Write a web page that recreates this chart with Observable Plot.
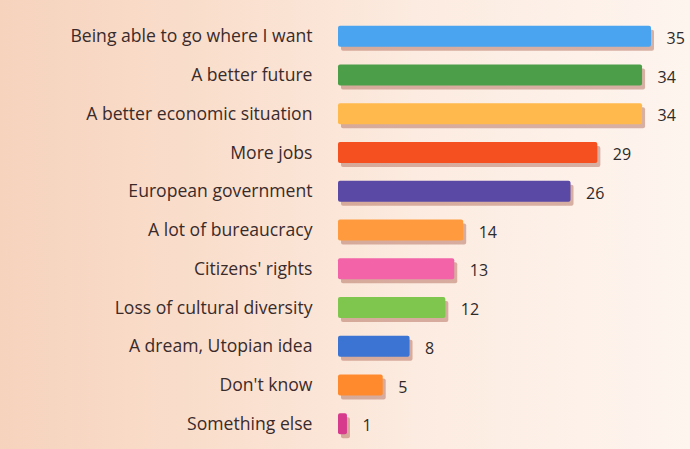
<!DOCTYPE html>
<html>
<head>
<meta charset="utf-8">
<script src="https://cdn.jsdelivr.net/npm/d3@7"></script>
<script src="https://cdn.jsdelivr.net/npm/@observablehq/plot@0.6"></script>
<style>
  html, body { margin: 0; padding: 0; }
  body {
    width: 690px; height: 449px; overflow: hidden;
    background: linear-gradient(90deg, #f6d3bd 0%, #fae0cf 35%, #fcebe0 60%, #fef5ef 100%);
  }
  #chart svg { display: block; background: transparent; }
</style>
</head>
<body>
<div id="chart"></div>
<script>
const categories = [
  "Being able to go where I want",
  "A better future",
  "A better economic situation",
  "More jobs",
  "European government",
  "A lot of bureaucracy",
  "Citizens' rights",
  "Loss of cultural diversity",
  "A dream, Utopian idea",
  "Don't know",
  "Something else"
];
const values = [35, 34, 34, 29, 26, 14, 13, 12, 8, 5, 1];
const colors = ["#4aa4f0", "#4c9e48", "#ffb94c", "#f5501f", "#5a4aa6", "#ff9b3e", "#f263a8", "#7ec64e", "#3b74d2", "#ff8a2e", "#d63b8c"];

const data = categories.map((c, i) => ({category: c, value: values[i], color: colors[i]}));

const chart = Plot.plot({
  width: 690,
  height: 449,
  marginLeft: 338,
  marginRight: 39,
  marginTop: 16,
  marginBottom: 5,
  style: {background: "transparent", fontFamily: "'Open Sans', sans-serif", color: "#3a2b2b"},
  x: {domain: [0, 35], axis: null},
  y: {domain: categories, paddingInner: 0.46, paddingOuter: 0.25, round: false, label: null},
  marks: [
    Plot.axisY({tickSize: 0, tickPadding: 26, fontSize: 17.6, label: null}),
    Plot.barX(data, {y: "category", x: "value", fill: "#b87868", fillOpacity: 0.55, dx: 3, dy: 4, rx: 2}),
    Plot.barX(data, {y: "category", x: "value", fill: "color", rx: 2}),
    Plot.text(data, {y: "category", x: "value", text: d => String(d.value), dx: 15, dy: 2, textAnchor: "start", fontSize: 16, fill: "#2e2a2a"})
  ]
});
document.getElementById("chart").appendChild(chart);
</script>
</body>
</html>
